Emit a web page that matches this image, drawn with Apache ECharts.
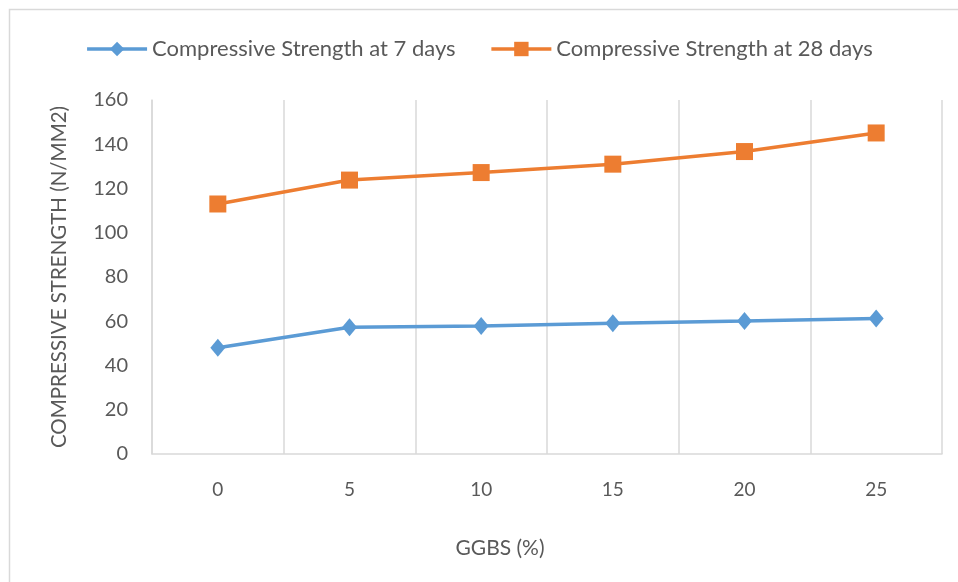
<!DOCTYPE html>
<html>
<head>
<meta charset="utf-8">
<script src="https://cdn.jsdelivr.net/npm/echarts@6/dist/echarts.min.js"></script>
<style>
  html, body { margin: 0; padding: 0; background: #fff; }
  #chart { width: 958px; height: 582px; }
</style>
</head>
<body>
<div id="chart"></div>
<script>
// GGBS replacement levels (%)
const ggbs = ['0', '5', '10', '15', '20', '25'];
// compressive strength values (N/mm2)
const strength7 = [48, 57.3, 57.9, 59.1, 60.1, 61.2];
const strength28 = [113, 123.8, 127.2, 131, 136.7, 145.1];
const yTicks = { min: 0, max: 160, step: 20 };

const txt = '#595959';
const font = 'Lato';

const chart = echarts.init(document.getElementById('chart'));
const option = {
  backgroundColor: '#fff',
  textStyle: { fontFamily: font },
  graphic: [{
    type: 'rect',
    shape: { x: 9.5, y: 9.5, width: 1000, height: 700 },
    style: { fill: 'none', stroke: '#d9d9d9', lineWidth: 1.5 },
    silent: true
  }],
  legend: {
    top: 33,
    left: 'center',
    itemGap: 34,
    itemWidth: 60,
    itemHeight: 18,
    lineStyle: { width: 3.5 },
    textStyle: { color: txt, fontSize: 22, fontFamily: font, padding: [0, 0, 0, 0] },
    data: ['Compressive Strength at 7 days', 'Compressive Strength at 28 days']
  },
  grid: { left: 152, right: 16, top: 100, bottom: 128 },
  xAxis: {
    type: 'category',
    data: ggbs,
    boundaryGap: true,
    name: 'GGBS (%)',
    nameLocation: 'middle',
    nameGap: 84,
    nameTextStyle: { color: txt, fontSize: 21, fontFamily: font, padding: [0, 94, 0, 0] },
    axisLine: { lineStyle: { color: '#d9d9d9', width: 1.5 } },
    axisTick: { show: false },
    axisLabel: { color: txt, fontSize: 19, margin: 26, fontFamily: font },
    splitLine: { show: true, lineStyle: { color: '#d9d9d9', width: 1.5 } }
  },
  yAxis: {
    type: 'value',
    min: yTicks.min,
    max: yTicks.max,
    interval: yTicks.step,
    name: 'COMPRESSIVE STRENGTH (N/MM2)',
    nameLocation: 'middle',
    nameGap: 82,
    nameTextStyle: { color: txt, fontSize: 20.5, fontFamily: font },
    axisLine: { show: true, lineStyle: { color: '#d9d9d9', width: 1.5 } },
    axisTick: { show: false },
    axisLabel: { color: txt, fontSize: 20, margin: 24, fontFamily: font },
    splitLine: { show: false }
  },
  series: [
    {
      name: 'Compressive Strength at 7 days',
      type: 'line',
      data: strength7,
      symbol: 'diamond',
      symbolSize: [15, 18],
      lineStyle: { color: '#5B9BD5', width: 3.5 },
      itemStyle: { color: '#5B9BD5' }
    },
    {
      name: 'Compressive Strength at 28 days',
      type: 'line',
      data: strength28,
      symbol: 'rect',
      symbolSize: 17,
      lineStyle: { color: '#ED7D31', width: 3.5 },
      itemStyle: { color: '#ED7D31' }
    }
  ]
};
chart.setOption(option);
</script>
</body>
</html>
